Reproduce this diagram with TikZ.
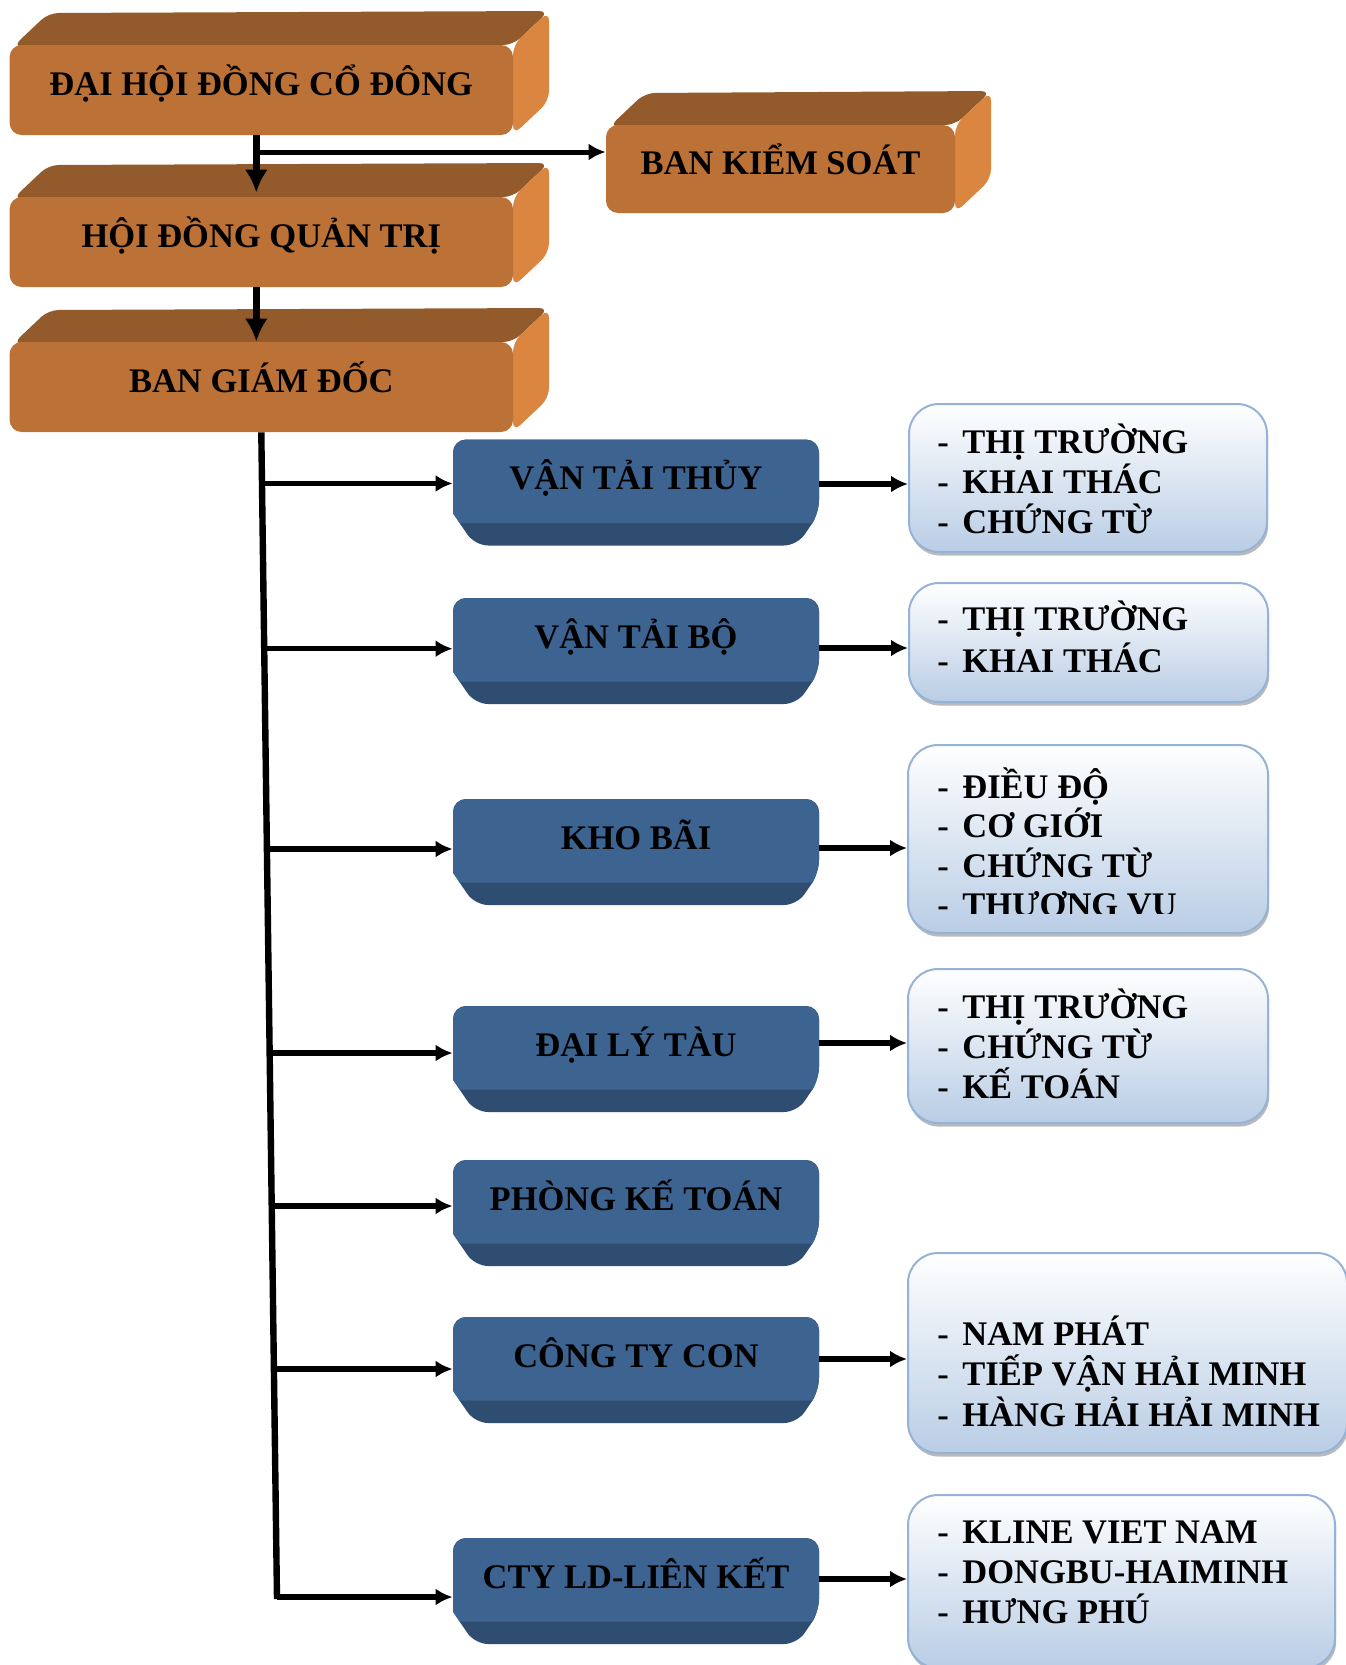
\documentclass[tikz,border=0pt]{standalone}
\usepackage{fontspec}
\setmainfont{Liberation Serif}
\usetikzlibrary{arrows.meta,shadows}
\definecolor{ofront}{HTML}{BC7236}
\definecolor{otop}{HTML}{935A2B}
\definecolor{oside}{HTML}{DA8641}
\definecolor{bfront}{HTML}{3D6391}
\definecolor{bdark}{HTML}{2F4D71}
\definecolor{iborder}{HTML}{95B3D7}
\definecolor{ibot}{HTML}{B9CDE5}
\newcommand\lst[2][20pt]{\vtop{\baselineskip=#1\lineskiplimit=-\maxdimen\lineskip=0pt #2}}
\newcommand\itm[1]{\hbox{\makebox[12.5pt][l]{-}#1}}
% orange 3D faces: front x1,y1,x2,y2 (px)
\newcommand\ofaces[4]{%
  \fill[otop, rounded corners=5pt] (#1+3,#2+2) -- (#1+39,#2-32) -- (#3+36,#2-34) -- (#3,#2) -- cycle;
  \fill[oside, rounded corners=5pt] (#3,#2) -- (#3+36,#2-34) -- (#3+36,#4-34) -- (#3,#4) -- cycle;}
% blue bevel box, top y (px)
\newcommand\bshape[1]{%
  \fill[bdark, rounded corners=6.5pt] (453,#1+74) -- (453,#1) -- (819,#1) -- (819,#1+74) -- (797,#1+106) -- (475,#1+106) -- cycle;
  \fill[bfront, rounded corners=6.5pt] (453,#1+74) -- (453,#1) -- (819,#1) -- (819,#1+74) [sharp corners] -- (812.5,#1+83.5) -- (459.5,#1+83.5) -- cycle;}
\tikzset{
  txt/.style={font=\fontsize{17.25pt}{20pt}\selectfont\bfseries, text=black},
  ofrontbox/.style={txt, fill=ofront, rounded corners=6pt, inner sep=0pt, minimum width=251.7pt, minimum height=45pt, text height=12pt, text depth=7pt},
  btext/.style={txt, inner sep=0pt, minimum width=183pt, minimum height=53pt, text height=6pt, text depth=9pt},
  ibox/.style={draw=iborder, line width=1pt, rounded corners=15pt, top color=white, bottom color=ibot, inner sep=0pt,
    drop shadow={shadow xshift=0.6pt, shadow yshift=-1.8pt, fill=black!45, opacity=0.6}},
  itext/.style={txt, anchor=base west, inner sep=0pt},
  toparrow/.style={line width=3.6pt, -{Latex[length=11.5pt,width=11.5pt]}},
  bksarrow/.style={line width=2.5pt, -{Latex[length=8.5pt,width=8.5pt]}},
  brarrow/.style={line width=2.6pt, -{Latex[length=8.5pt,width=8.5pt]}},
  rarrow/.style={line width=3pt, -{Latex[length=8.5pt,width=8.5pt]}},
  trunkline/.style={line width=3.2pt}
}
\begin{document}
\begin{tikzpicture}[x=0.5pt,y=-0.5pt]
\useasboundingbox (0,0) rectangle (1345,1665);
% ---------- orange boxes ----------
\ofaces{9.6}{45}{513}{135}
\node[ofrontbox] (o1) at (261.3,90) {ĐẠI HỘI ĐỒNG CỔ ĐÔNG};
\ofaces{9.6}{197}{513}{287}
\node[ofrontbox] (o2) at (261.3,242) {HỘI ĐỒNG QUẢN TRỊ};
\ofaces{9.6}{342}{513}{432}
\node[ofrontbox] (o3) at (261.3,387) {BAN GIÁM ĐỐC};
\ofaces{606}{125}{955}{213}
\node[ofrontbox, minimum width=174.5pt, minimum height=44pt] (bks) at (780.5,169) {BAN KIỂM SOÁT};
% ---------- blue boxes ----------
\bshape{439.5}
\node[btext] (b1) at (636,492.5) {VẬN TẢI THỦY};
\bshape{598}
\node[btext] (b2) at (636,651) {VẬN TẢI BỘ};
\bshape{799}
\node[btext] (b3) at (636,852) {KHO BÃI};
\bshape{1006}
\node[btext] (b4) at (636,1059) {ĐẠI LÝ TÀU};
\bshape{1160}
\node[btext] (b5) at (636,1213) {PHÒNG KẾ TOÁN};
\bshape{1317}
\node[btext] (b6) at (636,1370) {CÔNG TY CON};
\bshape{1538}
\node[btext] (b7) at (636,1591) {CTY LD-LIÊN KẾT};
% ---------- info boxes ----------
\node[ibox, minimum width=179pt, minimum height=74pt] (i1) at (1088,478) {};
\node[itext] (i1t) at (937,453) {\lst{\itm{THỊ TRƯỜNG}\itm{KHAI THÁC}\itm{CHỨNG TỪ}}};
\node[ibox, minimum width=179.5pt, minimum height=59.5pt] (i2) at (1088.5,642.5) {};
\node[itext] (i2t) at (937,630) {\lst[21pt]{\itm{THỊ TRƯỜNG}\itm{KHAI THÁC}}};
\node[ibox, minimum width=180pt, minimum height=94pt] (i3) at (1088,839) {};
\begin{scope}
  \clip (900,740) rectangle (1300,913);
  \node[itext] (i3t) at (937,798) {\lst[19.8pt]{\itm{ĐIỀU ĐỘ}\itm{CƠ GIỚI}\itm{CHỨNG TỪ}\itm{THƯƠNG VỤ}}};
\end{scope}
\node[ibox, minimum width=180pt, minimum height=77pt] (i4) at (1088,1046) {};
\node[itext] (i4t) at (937,1018) {\lst{\itm{THỊ TRƯỜNG}\itm{CHỨNG TỪ}\itm{KẾ TOÁN}}};
\node[ibox, minimum width=219.5pt, minimum height=100pt] (i6) at (1127.5,1353) {};
\node[itext] (i6t) at (937,1345) {\lst[20.25pt]{\itm{NAM PHÁT}\itm{TIẾP VẬN HẢI MINH}\itm{HÀNG HẢI HẢI MINH}}};
\node[ibox, minimum width=213.5pt, minimum height=86.5pt] (i7) at (1121.5,1581.5) {};
\node[itext] (i7t) at (937,1543) {\lst{\itm{KLINE VIET NAM}\itm{DONGBU-HAIMINH}\itm{HƯNG PHÚ}}};
% ---------- connectors ----------
\draw[toparrow, shorten >=2pt] ([xshift=-2.5pt]o1.south) -- ([xshift=-2.5pt]o2.north);
\coordinate (j1) at (256,152);
\draw[bksarrow] (j1) -- (j1 -| bks.west);
\draw[toparrow] ([xshift=-2.5pt]o2.south) -- ([xshift=-2.5pt]o3.north);
\coordinate (te) at (277,1599);
\draw[trunkline] (o3.south) -- (te);
\coordinate (t1) at (262.0,483.5);
\coordinate (t2) at (264.2,648.7);
\coordinate (t3) at (266.9,849);
\coordinate (t4) at (269.7,1053);
\coordinate (t5) at (271.7,1206);
\coordinate (t6) at (273.9,1369);
\coordinate (t7) at (277.0,1597);
\draw[brarrow] (t1) -- (t1 -| b1.west);
\draw[brarrow] (t2) -- (t2 -| b2.west);
\draw[brarrow] (t3) -- (t3 -| b3.west);
\draw[brarrow] (t4) -- (t4 -| b4.west);
\draw[brarrow] (t5) -- (t5 -| b5.west);
\draw[brarrow] (t6) -- (t6 -| b6.west);
\draw[brarrow] (t7) -- (t7 -| b7.west);
\coordinate (r1) at (0,484);
\coordinate (r2) at (0,648);
\coordinate (r3) at (0,848);
\coordinate (r4) at (0,1043);
\coordinate (r6) at (0,1359);
\coordinate (r7) at (0,1579);
\draw[rarrow] (b1.east |- r1) -- (i1.west |- r1);
\draw[rarrow] (b2.east |- r2) -- (i2.west |- r2);
\draw[rarrow] (b3.east |- r3) -- (i3.west |- r3);
\draw[rarrow] (b4.east |- r4) -- (i4.west |- r4);
\draw[rarrow] (b6.east |- r6) -- (i6.west |- r6);
\draw[rarrow] (b7.east |- r7) -- (i7.west |- r7);
\end{tikzpicture}
\end{document}
